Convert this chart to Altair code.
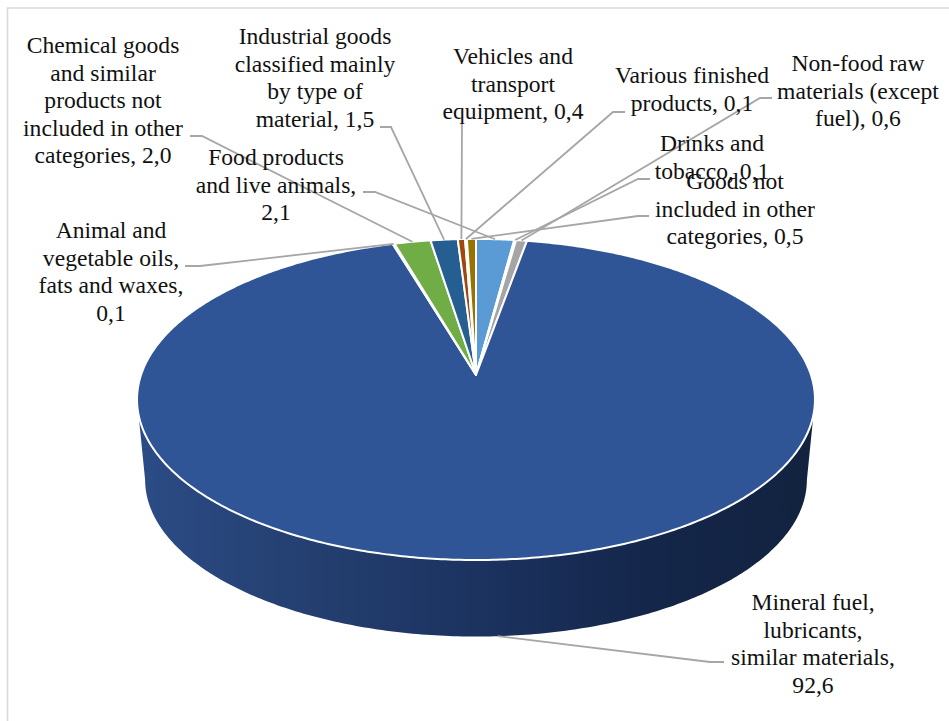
import math
import altair as alt

# Share of each commodity group, in percent, clockwise from twelve o'clock
categories = [
    "Food products and live animals",
    "Drinks and tobacco",
    "Non-food raw materials (except fuel)",
    "Mineral fuel, lubricants, similar materials",
    "Animal and vegetable oils, fats and waxes",
    "Chemical goods and similar products not included in other categories",
    "Industrial goods classified mainly by type of material",
    "Vehicles and transport equipment",
    "Various finished products",
    "Goods not included in other categories",
]
values = [2.1, 0.1, 0.6, 92.6, 0.1, 2.0, 1.5, 0.4, 0.1, 0.5]
colors = ["#5B9BD5", "#ED7D31", "#A5A5A5", "#2F5597", "#4472C4",
          "#70AD47", "#255E91", "#9E480E", "#636363", "#997300"]

# Wrapped label text for each group
label_text = [
    "Food products\nand live animals,\n2,1",
    "Drinks and\ntobacco, 0,1",
    "Non-food raw\nmaterials (except\nfuel), 0,6",
    "Mineral fuel,\nlubricants,\nsimilar materials,\n92,6",
    "Animal and\nvegetable oils,\nfats and waxes,\n0,1",
    "Chemical goods\nand similar\nproducts not\nincluded in other\ncategories, 2,0",
    "Industrial goods\nclassified mainly\nby type of\nmaterial, 1,5",
    "Vehicles and\ntransport\nequipment, 0,4",
    "Various finished\nproducts, 0,1",
    "Goods not\nincluded in other\ncategories, 0,5",
]

# Label placement: centre x, first-line y, then leader start and elbow
label_x = [276, 712, 858, 813, 111, 103, 315, 513, 692, 735]
label_y = [158, 144, 64, 603, 231, 46, 37, 57, 76, 182]
leader_start = [(363, 192), (650, 179), (772, 98), (724, 662), (185, 266),
                (190, 136), (380, 127), (462, 124), (625, 112), (649, 216)]
leader_elbow = [(375, 192), (638, 179), (760, 98), (710, 662), (200, 266),
                (202, 136), (391, 127), (462, 125), (613, 112), (638, 216)]

WIDTH, HEIGHT = 949, 721
FONT = "Liberation Serif"
FONT_SIZE = 23.6
LINE_GREY = "#A6A6A6"
FRAME_GREY = "#D9D9D9"

# Tilted disc: a circle seen in perspective, so the apex sits above the
# visual centre of the ellipse
TILT = 0.1526


def disc_point(angle, cx, apex_y, rx, ry):
    u, v = math.sin(angle), math.cos(angle)
    d = 1 + TILT * v
    return [cx + rx * u / d, apex_y - ry * v / d]


def top_face(angle):
    return disc_point(angle, 476, 375, 335, 156.8)


def base_face(angle):
    return disc_point(angle, 476, 456, 327, 153)


def feature(kind, coords, **props):
    return {"type": "Feature", "properties": props,
            "geometry": {"type": kind, "coordinates": coords}}


total = sum(values)
edges = [0.0]
for v in values:
    edges.append(edges[-1] + v / total * 2 * math.pi)

# Top-face wedges, one polygon per group
wedges = []
for name, col, a0, a1 in zip(categories, colors, edges, edges[1:]):
    steps = max(2, int((a1 - a0) / 0.01))
    arc = [top_face(a0 + (a1 - a0) * i / steps) for i in range(steps + 1)]
    ring = [[476, 375]] + arc + [[476, 375]]
    wedges.append(feature("Polygon", [ring], name=name, color=col))

# Outer wall of the disc, visible along the front half
right_tangent = math.acos(-TILT)
left_tangent = 2 * math.pi - right_tangent
n = 240
front = [base_face(right_tangent + (left_tangent - right_tangent) * i / n) for i in range(n + 1)]
rim = [top_face(left_tangent + (right_tangent - left_tangent) * i / n) for i in range(n + 1)]
wall_ring = front + rim + [front[0]]
wall = feature("Polygon", [wall_ring], name="wall")

# Leader lines run from the label to the middle of the wedge rim
leaders = []
for i, name in enumerate(categories):
    mid = (edges[i] + edges[i + 1]) / 2
    # The large wedge is labelled from the bottom of its wall
    end = base_face(mid) if values[i] > 50 else top_face(mid)
    leaders.append(feature("LineString",
                           [list(leader_start[i]), list(leader_elbow[i]), end],
                           name=name))

frame = [feature("LineString", [[7.5, HEIGHT], [7.5, 8], [WIDTH, 8]], name="frame")]

projection = alt.Projection(type="identity", scale=1, translate=[0, 0])


def shape_layer(features, **mark):
    return alt.Chart(alt.Data(values=features)).mark_geoshape(**mark).project(**projection.to_dict())


frame_layer = shape_layer(frame, filled=False, stroke=FRAME_GREY, strokeWidth=1.6)
wall_layer = shape_layer(
    [wall],
    fill=alt.Gradient(
        gradient="linear", x1=0, x2=1, y1=0, y2=0,
        stops=[
            alt.GradientStop(offset=0.0, color="#2C4C86"),
            alt.GradientStop(offset=0.25, color="#243F70"),
            alt.GradientStop(offset=0.5, color="#1C3360"),
            alt.GradientStop(offset=0.75, color="#14264A"),
            alt.GradientStop(offset=1.0, color="#12233F"),
        ],
    ),
    stroke=None,
)
wedge_layer = (
    alt.Chart(alt.Data(values=wedges))
    .mark_geoshape(stroke="white", strokeWidth=2, strokeJoin="round")
    .encode(fill=alt.Fill("properties.color:N", scale=None))
    .project(**projection.to_dict())
)
leader_layer = shape_layer(leaders, filled=False, stroke=LINE_GREY, strokeWidth=1.8)

labels = [{"name": c, "text": t, "x": x, "y": y}
          for c, t, x, y in zip(categories, label_text, label_x, label_y)]
x_scale = alt.Scale(domain=[0, WIDTH], range=[0, WIDTH], nice=False, zero=False)
y_scale = alt.Scale(domain=[0, HEIGHT], range=[0, HEIGHT], nice=False, zero=False)
text_layer = (
    alt.Chart(alt.Data(values=labels))
    .mark_text(font=FONT, fontSize=FONT_SIZE, color="#111111", align="center",
               baseline="middle", lineBreak="\n", lineHeight=27.6)
    .encode(
        x=alt.X("x:Q", scale=x_scale, axis=None),
        y=alt.Y("y:Q", scale=y_scale, axis=None),
        text="text:N",
    )
)

chart = (
    alt.layer(frame_layer, wall_layer, wedge_layer, leader_layer, text_layer)
    .properties(width=WIDTH, height=HEIGHT, padding=0, autosize=alt.AutoSizeParams(type="none"),
                background="white")
    .configure_view(stroke=None)
)

chart.save("out.html", embed_options={"renderer": "svg", "actions": False})
